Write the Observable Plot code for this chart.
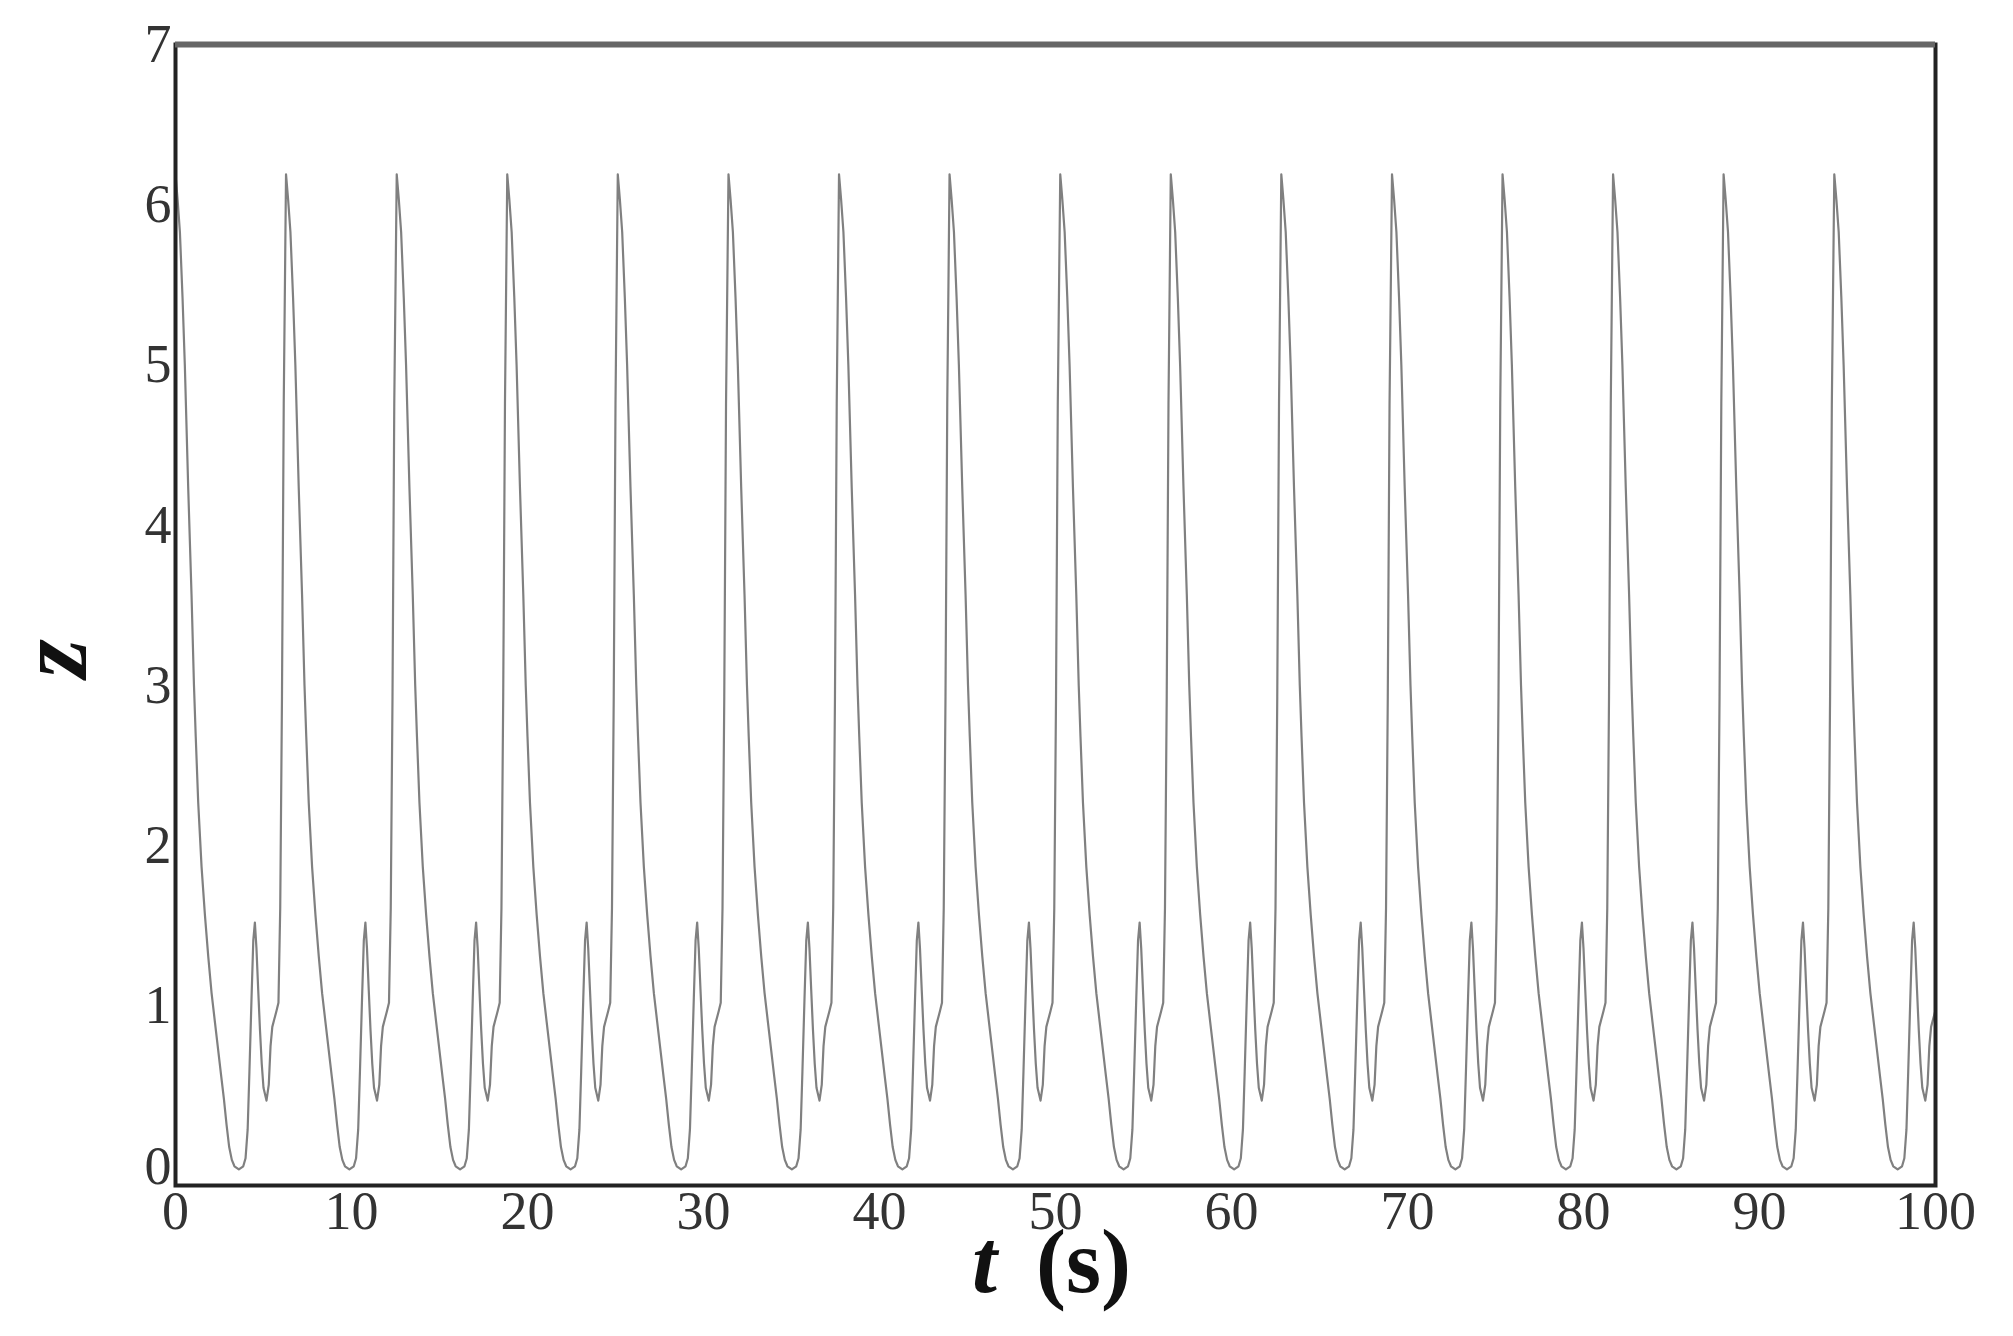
<!DOCTYPE html>
<html><head><meta charset="utf-8">
<script src="https://cdn.jsdelivr.net/npm/d3@7"></script>
<script src="https://cdn.jsdelivr.net/npm/@observablehq/plot@0.6"></script>
<style>html,body{margin:0;padding:0;background:#fff;}</style>
</head><body><div id="chart"></div>
<script>
// Times (s) of the main peaks
const peakTimes = [0, 6.28, 12.57, 18.85, 25.13, 31.42, 37.70, 43.98, 50.27, 56.55, 62.83, 69.12, 75.40, 81.68, 87.96, 94.25];
// One cycle of z: offset after each main peak (s) and value
const cycleTau = [0, 0.12, 0.25, 0.4, 0.53, 0.72, 0.91, 1.05, 1.15, 1.29, 1.48, 1.67, 1.86, 2.05, 2.24, 2.43, 2.6, 2.75, 2.9, 3.05, 3.2, 3.35, 3.6, 3.85, 3.98, 4.1, 4.2, 4.32, 4.42, 4.51, 4.6, 4.7, 4.8, 4.9, 5.0, 5.17, 5.3, 5.4, 5.5, 5.62, 5.74, 5.85, 5.95, 6.05, 6.15];
const cycleZ   = [6.19, 6.03, 5.83, 5.42, 5.0, 4.24, 3.57, 3.0, 2.68, 2.27, 1.87, 1.57, 1.31, 1.08, 0.9, 0.72, 0.56, 0.42, 0.26, 0.12, 0.04, 0.0, -0.02, 0.0, 0.05, 0.23, 0.59, 1.05, 1.41, 1.52, 1.36, 1.1, 0.85, 0.64, 0.49, 0.41, 0.51, 0.75, 0.87, 0.92, 0.97, 1.02, 1.61, 2.93, 4.76];
const xTicks = [0, 10, 20, 30, 40, 50, 60, 70, 80, 90, 100];
const yTicks = [0, 1, 2, 3, 4, 5, 6, 7];
const xLabelVar = "t";
const xLabelUnit = "(s)";
const yLabel = "z";

const series = [];
peakTimes.forEach(p => cycleTau.forEach((tau, i) => {
  const t = +(p + tau).toFixed(3);
  if (t <= 100) series.push({t, z: cycleZ[i]});
}));

const chart = Plot.plot({
  width: 2013, height: 1336,
  marginLeft: 175, marginRight: 78, marginTop: 44, marginBottom: 151,
  x: {domain: [0, 100]},
  y: {domain: [-0.12, 7]},
  style: {fontFamily: "'Liberation Serif', 'Times New Roman', serif", fontSize: "54px", color: "#333", background: "#fff"},
  marks: [
    Plot.line(series, {x: "t", y: "z", stroke: "#808080", strokeWidth: 2.2}),
    Plot.frame({stroke: "#222", strokeWidth: 4}),
    Plot.ruleY([7], {stroke: "#666", strokeWidth: 6}),
    Plot.axisX({ticks: xTicks, tickSize: 0, tickPadding: 5, label: null, tickFormat: d => String(d)}),
    Plot.axisY({ticks: yTicks, tickSize: 0, tickPadding: 4, label: null, tickFormat: d => String(d)}),
    Plot.text([xLabelVar], {text: d => d, frameAnchor: "bottom", dx: -71, dy: 106, fontSize: 90, fontWeight: "bold", fontStyle: "italic", fill: "#111"}),
    Plot.text([xLabelUnit], {text: d => d, frameAnchor: "bottom", dx: 28, dy: 106, fontSize: 90, fontWeight: "bold", fill: "#111"}),
    Plot.text([yLabel], {text: d => d, frameAnchor: "left", dx: -122, dy: 63, rotate: -90, fontSize: 100, fontWeight: "bold", fontStyle: "italic", fill: "#111"})
  ]
});
document.getElementById("chart").appendChild(chart);
</script>
</body></html>
